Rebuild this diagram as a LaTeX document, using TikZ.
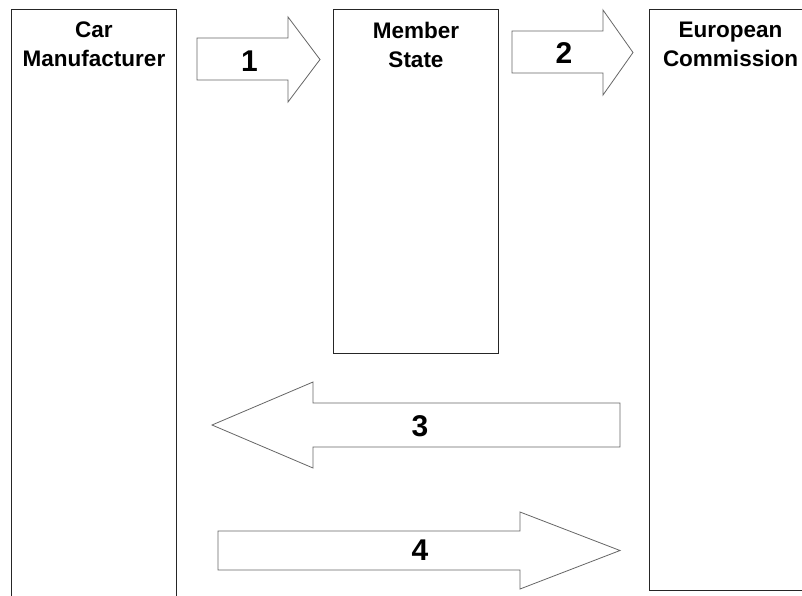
\documentclass[tikz,border=0pt]{standalone}
\usepackage{fontspec}
\setmainfont{Liberation Sans}
\usetikzlibrary{positioning}

\begin{document}
\begin{tikzpicture}[x=1pt,y=-1pt]
  % Colors
  \colorlet{boxline}{black!85}
  \colorlet{arrowline}{black!60}
  % Styles
  \tikzstyle{party}=[draw=boxline,line width=1pt,inner sep=0pt,anchor=north west]
  \tikzstyle{party title}=[font=\bfseries\fontsize{22.5}{29}\selectfont,align=center,inner sep=0pt]
  \tikzstyle{block arrow}=[draw=arrowline,line width=0.8pt,fill=white,line join=miter]
  \tikzstyle{step number}=[font=\bfseries\fontsize{30}{30}\selectfont,inner sep=0pt]

  \useasboundingbox (0,0) rectangle (802,595);
  \clip (0,0) rectangle (802,595);

  % The boxes
  \node[party,minimum width=165,minimum height=600] (car) at (11,9) {};
  \node[party,minimum width=165,minimum height=344] (state) at (333,9) {};
  \node[party,minimum width=162,minimum height=581] (ec) at (649,9) {};

  \node[party title,below=12.7pt of car.north] (cartitle) {Car\\Manufacturer};
  \node[party title,below=12.7pt of state.north] (statetitle) {Member\\State};
  \node[party title,below=12.7pt of ec.north] (ectitle) {European\\Commission};

  % The arrows
  \draw[style=block arrow] (197,38) -- (288,38) -- (288,17) -- (320,59.5)
    -- (288,102) -- (288,80) -- (197,80) -- cycle;
  \draw[style=block arrow] (512,31) -- (603,31) -- (603,10) -- (633,52.5)
    -- (603,95) -- (603,73) -- (512,73) -- cycle;
  \draw[style=block arrow] (620,403) -- (313,403) -- (313,382) -- (212,425)
    -- (313,468) -- (313,447) -- (620,447) -- cycle;
  \draw[style=block arrow] (218,531) -- (520,531) -- (520,512) -- (620,550.5)
    -- (520,589) -- (520,570) -- (218,570) -- cycle;

  \node[step number] (n1) at (249.5,61) {1};
  \node[step number] (n2) at (564,53) {2};
  \node[step number] (n3) at (420,426.5) {3};
  \node[step number] (n4) at (420,550) {4};
\end{tikzpicture}
\end{document}
